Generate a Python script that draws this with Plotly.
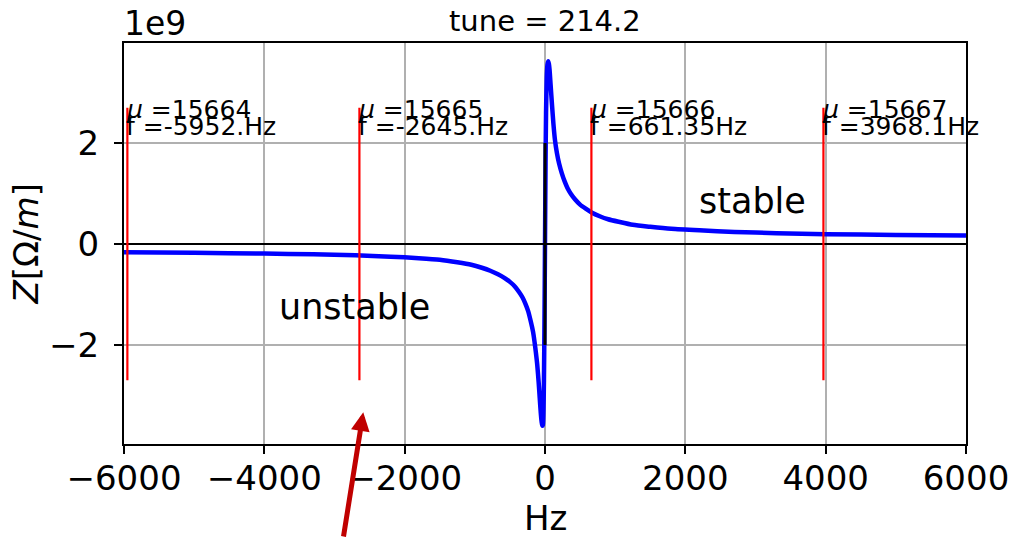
import plotly.graph_objects as go

# Impedance curve around the resonance (Hz, units of 1e9 Ohm/m)
freq_hz = [-6000, -5000, -4000, -3300, -2700, -2200, -1800, -1500, -1250, -1050,
           -900, -780, -670, -580, -500, -430, -370, -320, -280, -240,
           -200, -170, -150, -130, -110, -90, -75, -60, -48, -38,
           -30, -22, -15, -8, 0, 8, 15, 25, 35, 45,
           55, 65, 80, 100, 120, 142, 170, 200, 240, 280,
           320, 370, 430, 500, 580, 670, 780, 900, 1050, 1250,
           1500, 1800, 2200, 2700, 3300, 4000, 5000, 6000]
z_1e9 = [-0.165, -0.175, -0.188, -0.205, -0.225, -0.25, -0.28, -0.31, -0.36, -0.41,
         -0.47, -0.53, -0.60, -0.67, -0.75, -0.84, -0.95, -1.06, -1.18, -1.33,
         -1.55, -1.74, -1.93, -2.15, -2.40, -2.75, -3.05, -3.35, -3.52, -3.60,
         -3.58, -3.30, -2.70, -1.60, 0.0, 1.60, 2.60, 3.30, 3.55, 3.62,
         3.57, 3.45, 3.15, 2.75, 2.38, 2.06, 1.80, 1.60, 1.40, 1.24,
         1.11, 0.99, 0.88, 0.78, 0.70, 0.62, 0.55, 0.49, 0.44, 0.38,
         0.34, 0.30, 0.27, 0.24, 0.215, 0.195, 0.18, 0.17]

# Betatron sidebands
mode_mu = [15664, 15665, 15666, 15667]
mode_freq = [-5952.0, -2645.0, 661.35, 3968.1]
mode_freq_text = ["-5952.Hz", "-2645.Hz", "661.35Hz", "3968.1Hz"]

tune = "214.2"
x_ticks = [-6000, -4000, -2000, 0, 2000, 4000, 6000]
x_tick_text = ["\u22126000", "\u22124000", "\u22122000", "0", "2000", "4000", "6000"]
y_ticks = [-2, 0, 2]
y_tick_text = ["\u22122", "0", "2"]

SCALE = 1e9
FONT = "DejaVu Sans"

fig = go.Figure()

fig.add_trace(go.Scatter(
    x=freq_hz, y=[v * SCALE for v in z_1e9], mode="lines",
    line=dict(color="#0000ff", width=4.5, shape="spline", smoothing=0.6),
    hoverinfo="skip", showlegend=False))

# zero line and marker at f = 0
fig.add_trace(go.Scatter(
    x=[-6000, 6000], y=[0, 0], mode="lines",
    line=dict(color="black", width=2.2), showlegend=False, hoverinfo="skip"))
fig.add_trace(go.Scatter(
    x=[0, 0], y=[-2 * SCALE, 2 * SCALE], mode="lines",
    line=dict(color="black", width=3), showlegend=False, hoverinfo="skip"))

line_half = 2.7 * SCALE
xs, ys = [], []
for f in mode_freq:
    xs += [f, f, None]
    ys += [-line_half, line_half, None]
fig.add_trace(go.Scatter(
    x=xs, y=ys, mode="lines", line=dict(color="#ff0000", width=2.2),
    showlegend=False, hoverinfo="skip"))

annotations = []
for mu, f, ftxt in zip(mode_mu, mode_freq, mode_freq_text):
    annotations.append(dict(
        x=f, y=2.67 * SCALE, xref="x", yref="y", xanchor="left", yanchor="middle",
        text=f"<i>\u03bc</i> ={mu}", showarrow=False, xshift=-3,
        font=dict(family=FONT, size=25, color="black")))
    annotations.append(dict(
        x=f, y=2.33 * SCALE, xref="x", yref="y", xanchor="left", yanchor="middle",
        text=f"f ={ftxt}", showarrow=False, xshift=-3,
        font=dict(family=FONT, size=25, color="black")))

annotations += [
    dict(x=2964, y=0.85 * SCALE, xref="x", yref="y", text="stable", showarrow=False,
         font=dict(family=FONT, size=35, color="black")),
    dict(x=-2708, y=-1.25 * SCALE, xref="x", yref="y", text="unstable", showarrow=False,
         font=dict(family=FONT, size=35, color="black")),
    dict(x=-2590, y=-3.33 * SCALE, xref="x", yref="y", text="", showarrow=True,
         ax=-20, ay=135, arrowhead=2, arrowsize=0.75, arrowwidth=5,
         arrowcolor="#c00000", standoff=0),
    dict(x=0.5, y=1, xref="paper", yref="paper", yanchor="bottom", yshift=3,
         text=f"tune = {tune}", showarrow=False,
         font=dict(family=FONT, size=29, color="black")),
    dict(x=0, y=1, xref="paper", yref="paper", xanchor="left", yanchor="bottom",
         xshift=-2, yshift=-2, text="1e9", showarrow=False,
         font=dict(family=FONT, size=33, color="black")),
    dict(x=0.5, y=-0.185, xref="paper", yref="paper", yanchor="middle",
         text="Hz", showarrow=False, font=dict(family=FONT, size=34, color="black")),
    dict(x=-0.1164, y=0.5, xref="paper", yref="paper", xanchor="center", yanchor="middle",
         textangle=-90, text="<i>Z</i>[\u03a9/<i>m</i>]", showarrow=False,
         font=dict(family=FONT, size=34, color="black")),
]

axis_common = dict(
    showline=True, linecolor="black", linewidth=2, mirror=True,
    ticks="outside", ticklen=8, tickwidth=2, tickcolor="black",
    showgrid=True, gridcolor="#b0b0b0", gridwidth=1.5, zeroline=False,
    automargin=False,
    tickfont=dict(family=FONT, size=34, color="black"),
)

fig.update_layout(
    width=1014, height=538,
    margin=dict(l=124, r=48, t=43, b=94, autoexpand=False),
    paper_bgcolor="white", plot_bgcolor="white",
    xaxis=dict(range=[-6000, 6000], tickvals=x_ticks, ticktext=x_tick_text,
               ticklabelstandoff=-5, **axis_common),
    yaxis=dict(range=[-3.96 * SCALE, 3.98 * SCALE], tickvals=[v * SCALE for v in y_ticks],
               ticktext=y_tick_text, ticklabelstandoff=8, **axis_common),
    annotations=annotations,
    showlegend=False,
)

fig.write_html("out.html")
